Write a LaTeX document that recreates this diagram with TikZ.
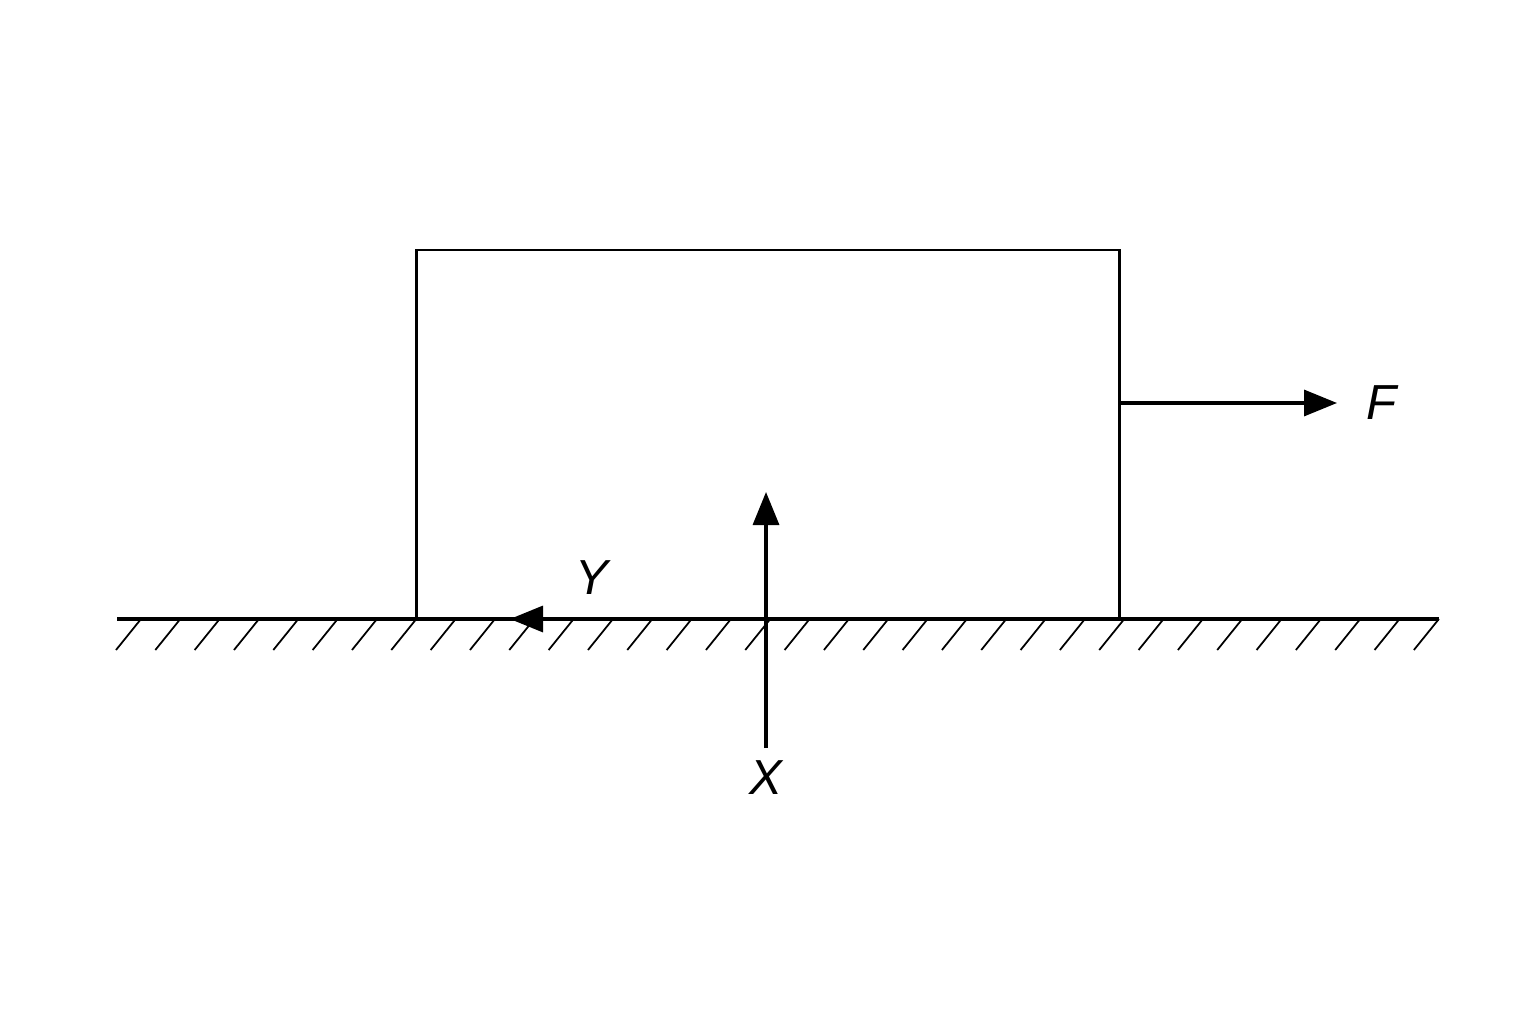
\documentclass[tikz,border=0pt]{standalone}
\usepackage{fontspec}
\setmainfont{Liberation Sans}
\usetikzlibrary{arrows.meta}
\begin{document}
\begin{tikzpicture}[
  body/.style={draw=black, line width=0.85pt, inner sep=0pt, outer sep=0pt, minimum width=7.03cm, minimum height=3.69cm},
  groundline/.style={line width=1.1pt},
  hatchline/.style={line width=0.5pt},
  force/.style={line width=0.95pt, -{Triangle[length=0.33cm, width=0.26cm]}},
  lbl/.style={font=\fontsize{14}{16}\selectfont\itshape, inner sep=0pt}
]
\useasboundingbox (0,0) rectangle (15.36,10.24);
\fill[white] (0,0) rectangle (15.36,10.24);
% ground
\coordinate (gl) at (1.17,4.05);
\coordinate (gr) at (14.39,4.05);
\foreach \i in {0,...,33} {
  \draw[hatchline] ({1.16+0.3933*\i},3.74) -- ({1.41+0.3933*\i},4.05);
}
\draw[groundline] (gl) -- (gr);
% block
\node[body] (box) at (7.675,5.895) {};
% force F
\coordinate (fstart) at (11.19,6.21);
\coordinate (ftip) at (13.37,6.21);
\node[lbl] (F) at (13.82,6.21) {F};
\draw[force] (fstart) -- (ftip);
% force X
\coordinate (xstart) at (7.66,2.76);
\coordinate (xtip) at (7.66,5.32);
\node[lbl] (X) at (7.66,2.46) {X};
\draw[force] (xstart) -- (xtip);
% force Y
\coordinate (ystart) at (7.66,4.05);
\coordinate (ytip) at (5.10,4.05);
\node[lbl] (Y) at (5.92,4.46) {Y};
\draw[force] (ystart) -- (ytip);
\end{tikzpicture}
\end{document}
